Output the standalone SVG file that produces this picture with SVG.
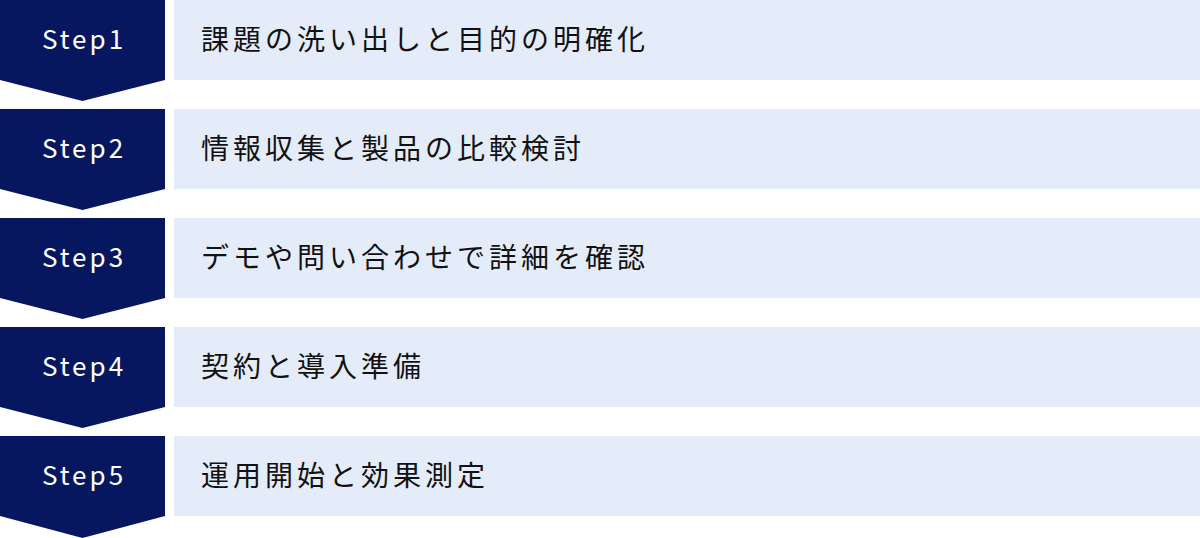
<svg xmlns="http://www.w3.org/2000/svg" width="1200" height="538" viewBox="0 0 1200 538">
<style>
.chev{fill:#061760}
.box{fill:#e5ecf9}
.st{fill:#ffffff;font-family:"Noto Sans CJK JP","Noto Sans",sans-serif;font-size:26px;letter-spacing:3px;text-anchor:middle}
.tx{fill:#111111;font-family:"Noto Sans CJK JP","Noto Sans",sans-serif;font-size:28px;letter-spacing:4px}
</style>
<rect width="1200" height="538" fill="#ffffff"/>
<g id="step1">
<path class="chev" d="M0 0H165V80L82.5 101L0 80Z"/>
<rect class="box" x="174" y="0" width="1026" height="80"/>
<text class="st" x="84" y="49">Step1</text>
<text class="tx" x="201" y="50">課題の洗い出しと目的の明確化</text>
</g>
<g id="step2">
<path class="chev" d="M0 109H165V189L82.5 210L0 189Z"/>
<rect class="box" x="174" y="109" width="1026" height="80"/>
<text class="st" x="84" y="158">Step2</text>
<text class="tx" x="201" y="159">情報収集と製品の比較検討</text>
</g>
<g id="step3">
<path class="chev" d="M0 218H165V298L82.5 319L0 298Z"/>
<rect class="box" x="174" y="218" width="1026" height="80"/>
<text class="st" x="84" y="267">Step3</text>
<text class="tx" x="201" y="268">デモや問い合わせで詳細を確認</text>
</g>
<g id="step4">
<path class="chev" d="M0 327H165V407L82.5 428L0 407Z"/>
<rect class="box" x="174" y="327" width="1026" height="80"/>
<text class="st" x="84" y="376">Step4</text>
<text class="tx" x="201" y="377">契約と導入準備</text>
</g>
<g id="step5">
<path class="chev" d="M0 436H165V516L82.5 538L0 516Z"/>
<rect class="box" x="174" y="436" width="1026" height="80"/>
<text class="st" x="84" y="485">Step5</text>
<text class="tx" x="201" y="486">運用開始と効果測定</text>
</g>
<g id="connectors"></g>
</svg>
